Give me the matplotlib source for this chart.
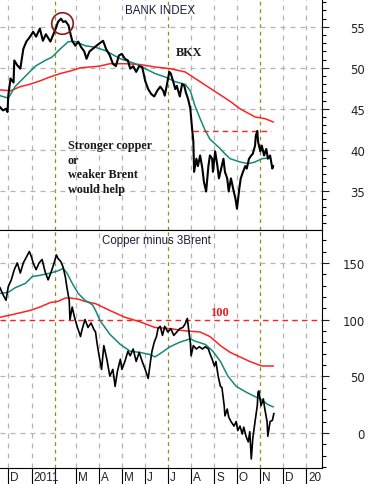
import numpy as np
import pandas as pd
import matplotlib
matplotlib.use("Agg")
import matplotlib.pyplot as plt
import matplotlib.transforms as mtransforms

# days counted from 2010-12-01
base = np.datetime64('2010-12-01')

# --- BANK INDEX (BKX) ---
bkx_days = [-11, -7, -3, -1, 0, 3, 7, 8, 12, 16, 20, 24, 29, 33, 37, 42, 46, 50, 56, 60,
            64, 66, 70, 73, 76, 80, 82, 85, 89, 93, 97, 101, 104, 108, 112, 116, 120, 126,
            130, 135, 139, 143, 147, 151, 155, 159, 162, 166, 170, 174, 178, 182, 186, 190,
            194, 198, 202, 206, 208, 211, 214, 216, 219, 222, 224, 228, 231, 234, 236, 239,
            242, 244, 246, 247, 250, 252, 255, 258, 260, 263, 266, 268, 271, 272, 275, 278,
            280, 283, 286, 288, 291, 293, 296, 299, 302, 304, 307, 309, 312, 315, 317, 320,
            323, 325, 328, 329, 331, 332, 335, 337, 340, 343, 345, 348, 351, 352]
bkx = [45.2, 44.8, 45.0, 44.6, 46.6, 48.7, 48.2, 50.9, 50.3, 49.9, 52.3, 53.2, 53.8, 54.4,
       53.8, 54.8, 53.3, 54.1, 53.2, 54.1, 55.0, 55.6, 56.0, 55.6, 55.7, 55.2, 54.4, 53.3,
       52.7, 53.2, 52.5, 52.0, 51.1, 52.0, 52.3, 52.6, 52.9, 53.3, 52.3, 51.5, 50.5, 50.2,
       51.5, 51.7, 51.1, 50.9, 49.9, 50.2, 49.5, 50.2, 50.1, 48.4, 47.4, 46.8, 46.5, 47.2,
       47.7, 47.2, 46.6, 48.0, 49.5, 49.3, 48.4, 47.4, 47.8, 46.5, 48.0, 47.8, 47.0, 46.2,
       45.0, 42.9, 41.0, 37.3, 38.9, 38.0, 39.3, 37.7, 36.1, 34.9, 38.0, 39.3, 38.9, 37.3,
       39.8, 38.0, 36.5, 37.7, 38.9, 37.3, 36.5, 34.9, 36.5, 35.2, 34.0, 32.8, 35.2, 36.5,
       37.3, 38.0, 37.7, 38.9, 39.3, 39.5, 40.5, 41.7, 42.3, 41.0, 39.8, 40.5, 39.3, 40.1,
       38.9, 39.3, 37.7, 38.0]

bkx_ma1_days = [-11, 0, 9, 23, 36, 49, 58, 69, 80, 89, 102, 116, 129, 149, 169, 182, 195,
                208, 222, 235, 242, 248, 255, 262, 268, 275, 282, 288, 295, 308, 319, 328,
                337, 348]
bkx_ma1 = [46.6, 46.3, 47.7, 49.0, 50.2, 50.9, 51.3, 52.3, 53.2, 53.2, 52.7, 52.5, 52.1,
           51.1, 50.5, 49.9, 49.3, 48.9, 48.3, 48.0, 47.2, 45.4, 43.8, 42.3, 41.3, 40.7,
           40.1, 39.5, 38.9, 38.5, 38.3, 38.5, 38.9, 39.0]

bkx_ma2_days = [-11, 3, 16, 29, 42, 56, 69, 82, 96, 109, 121, 135, 155, 175, 195, 215, 235,
                255, 275, 295, 308, 328, 341, 352]
bkx_ma2 = [47.3, 47.2, 47.7, 48.0, 48.4, 48.9, 49.3, 49.6, 50.0, 50.1, 50.2, 50.5, 50.5,
           50.4, 50.1, 49.9, 49.5, 48.3, 47.1, 45.9, 45.0, 44.0, 43.8, 43.4]

bkx_level_days = [246, 349]
bkx_level = 42.3
peak_day, peak_val = 72, 55.5

# --- Copper minus 3Brent ---
cb_days = [-11, -7, -3, 0, 4, 8, 12, 16, 20, 24, 28, 31, 33, 37, 41, 45, 49, 53, 57, 61,
           64, 66, 70, 73, 76, 78, 81, 82, 85, 88, 92, 96, 98, 102, 106, 110, 114, 116, 118,
           121, 124, 127, 131, 135, 139, 142, 145, 149, 151, 155, 159, 162, 166, 170, 174,
           178, 182, 186, 189, 191, 194, 197, 199, 202, 205, 208, 212, 216, 220, 224, 228,
           232, 235, 238, 240, 242, 243, 246, 250, 254, 258, 262, 266, 268, 271, 274, 276,
           279, 282, 284, 287, 288, 291, 293, 296, 300, 303, 305, 308, 311, 313, 316, 319,
           321, 323, 325, 328, 331, 332, 333, 336, 339, 341, 344, 345, 348, 351, 353]
cb = [128, 122, 117, 129, 135, 144, 150, 141, 150, 155, 160, 155, 150, 144, 150, 153, 142,
      135, 142, 150, 157, 154, 151, 146, 137, 128, 117, 100, 111, 102, 93, 85, 91, 100, 93,
      97, 91, 89, 79, 67, 56, 77, 65, 50, 56, 41, 54, 65, 56, 63, 72, 68, 74, 63, 71, 63, 56,
      48, 63, 72, 80, 85, 92, 94, 86, 94, 89, 92, 86, 89, 92, 93, 96, 101, 90, 80, 68, 77,
      74, 76, 74, 76, 74, 70, 65, 59, 63, 50, 41, 40, 24, 15, 21, 14, 10, 6, 10, 2, 6, -1, 5,
      -3, -8, 1, -23, -5, 10, 24, 36, 37, 24, 30, 21, 10, -3, 10, 11, 17]

cb_ma1_days = [-11, 0, 9, 23, 32, 42, 56, 66, 73, 78, 85, 93, 102, 112, 116, 122, 135, 149,
               162, 175, 189, 195, 202, 215, 228, 242, 248, 262, 272, 282, 292, 303, 316,
               328, 335, 345, 352]
cb_ma1 = [123, 124, 128, 132, 138, 139, 141, 143, 145, 141, 132, 123, 117, 113, 108, 99,
          87, 78, 72, 71, 69, 67, 70, 76, 80, 83, 81, 78, 72, 63, 50, 41, 36, 32, 30, 25, 23]

cb_ma2_days = [-11, 3, 16, 29, 42, 56, 66, 76, 82, 93, 102, 116, 135, 155, 175, 195, 215,
               235, 255, 268, 282, 295, 308, 321, 337, 352]
cb_ma2 = [102, 104, 106, 108, 111, 115, 116, 119, 119, 118, 116, 114, 108, 102, 98, 93, 92,
          90, 89, 85, 77, 71, 67, 63, 59, 59]
cb_level = 100

month_labels = ['D', '2011', '', 'M', 'A', 'M', 'J', 'J', 'A', 'S', 'O', 'N', 'D', '20']
olive_months = ['2011-02', '2011-07', '2011-11']


def to_dates(days):
    return base + np.array(days).astype('timedelta64[D]')


months = pd.date_range('2010-12-01', '2012-01-01', freq='MS')
xmin = base + np.timedelta64(-11, 'D')
xmax = base + np.timedelta64(417, 'D')

grid_gray = '#b4b4b4'
olive = '#8f8f1c'
teal = '#13897b'
red = '#ff2222'

fig = plt.figure(figsize=(3.7, 4.85), dpi=100)
ax1 = fig.add_axes([0, 1 - 231 / 485, 322 / 370, 231 / 485])
ax2 = fig.add_axes([0, 1 - 469 / 485, 322 / 370, 238 / 485])

for ax in (ax1, ax2):
    ax.set_xlim(xmin, xmax)
    for m in months:
        is_olive = m.strftime('%Y-%m') in olive_months
        ax.axvline(m, color=olive if is_olive else grid_gray, lw=0.9,
                   ls=(0, (4, 4)) if not is_olive else (0, (3, 3)), zorder=1)
    ax.spines['left'].set_visible(False)
    ax.yaxis.tick_right()
    ax.tick_params(axis='y', which='major', length=5, width=0.8, pad=26, labelsize=8.5,
                   colors='#222222')
    ax.tick_params(axis='y', which='minor', length=3, width=0.8)
    ax.set_xticks(months)
    ax.set_xticklabels([])
ax1.spines['top'].set_visible(False)

# top panel
ax1.set_ylim(30.2, 58.4)
ax1.set_yticks([35, 40, 45, 50, 55])
ax1.set_yticks(np.arange(31, 59, 1), minor=True)
for lab in ax1.get_yticklabels():
    lab.set_horizontalalignment('right')
for v in [35, 40, 45, 50, 55]:
    ax1.axhline(v, color=grid_gray, lw=0.9, ls=(0, (4, 4)), zorder=1)
ax1.tick_params(axis='x', length=0)
ax1.plot(to_dates(bkx_ma2_days), bkx_ma2, color=red, lw=1.1, zorder=3)
ax1.plot(to_dates(bkx_ma1_days), bkx_ma1, color=teal, lw=1.1, zorder=3)
ax1.plot(to_dates(bkx_days), bkx, color='black', lw=1.5, zorder=4)
ax1.plot(to_dates(bkx_level_days), [bkx_level, bkx_level], color=red, lw=1.0,
         ls=(0, (4, 3)), zorder=3)
ax1.plot(to_dates([peak_day]), [peak_val], 'o', ms=15.5, mfc='none', mec='#8b1a1a',
         mew=1.2, zorder=5)
ax1.text(125 / 322, 1 - 11 / 231, 'BANK INDEX', transform=ax1.transAxes, fontsize=8.3,
         color='#1c1c3c', ha='left', va='center', family='Liberation Sans')
ax1.text(176 / 322, 1 - 53 / 231, 'BKX', transform=ax1.transAxes, fontsize=8.7,
         fontweight='bold', color='#1a1a1a', ha='left', va='center', family='Liberation Serif')
ax1.text(68 / 322, 1 - 168 / 231, 'Stronger copper\nor\nweaker Brent\nwould help',
         transform=ax1.transAxes, fontsize=8.7, fontweight='bold', color='#1a1a1a',
         ha='left', va='center', linespacing=1.27, family='Liberation Serif')

# bottom panel
ax2.set_ylim(-31, 179)
ax2.set_yticks([0, 50, 100, 150])
ax2.set_yticks(np.arange(-30, 180, 10), minor=True)
for lab in ax2.get_yticklabels():
    lab.set_horizontalalignment('right')
for v in [0, 50, 150]:
    ax2.axhline(v, color=grid_gray, lw=0.9, ls=(0, (4, 4)), zorder=1)
ax2.axhline(cb_level, color=red, lw=1.0, ls=(0, (4, 3)), zorder=3)
ax2.plot(to_dates(cb_ma2_days), cb_ma2, color=red, lw=1.1, zorder=3)
ax2.plot(to_dates(cb_ma1_days), cb_ma1, color=teal, lw=1.1, zorder=3)
ax2.plot(to_dates(cb_days), cb, color='black', lw=1.2, zorder=4)
ax2.text(102 / 322, 1 - 10 / 238, 'Copper minus 3Brent', transform=ax2.transAxes,
         fontsize=8.3, color='#1c1c3c', ha='left', va='center', family='Liberation Sans')
ax2.text(210 / 322, 1 - 82 / 238, '100', transform=ax2.transAxes, fontsize=9,
         fontweight='bold', color='#e82020', ha='left', va='center', family='Liberation Serif')

ax2.tick_params(axis='x', length=12, width=0.8, direction='out')
lab_tr = mtransforms.offset_copy(ax2.get_xaxis_transform(), fig=fig, x=2, y=-3, units='dots')
for m, lab in zip(months, month_labels):
    if lab:
        ax2.text(m, 0, lab, transform=lab_tr, fontsize=8.5, color='#222222', ha='left',
                 va='top', family='Liberation Sans', clip_on=False)

fig.savefig('out.png', dpi=100)
